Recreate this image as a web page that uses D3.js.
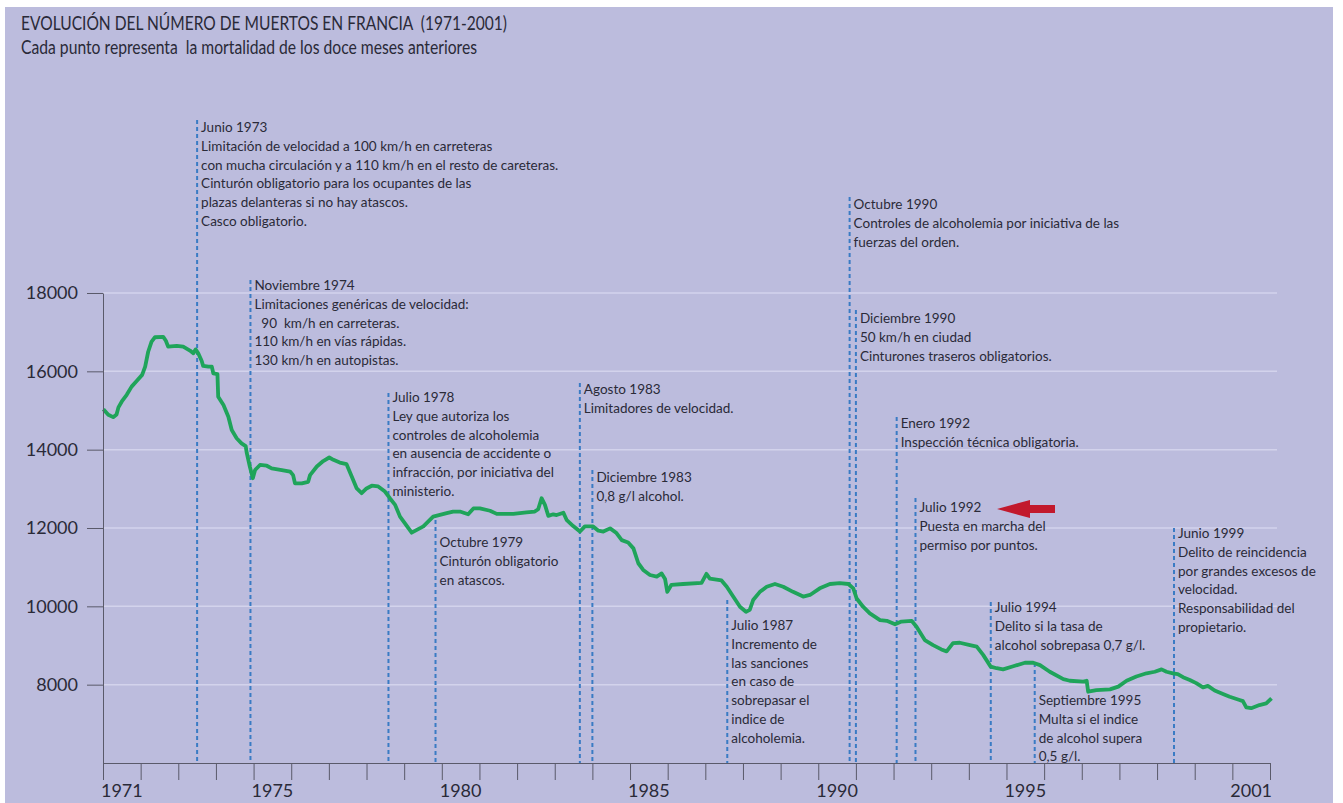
<!DOCTYPE html>
<html>
<head>
<meta charset="utf-8">
<script src="https://cdn.jsdelivr.net/npm/d3@7"></script>
<style>
  body { margin: 0; background: #fff; }
  text { font-family: Lato, "Open Sans", sans-serif; fill: #2a2a38; }
</style>
</head>
<body>
<script>
// rolling 12-month deaths (decimal year, deaths)
var years = [1971.01,1971.14,1971.27,1971.36,1971.41,1971.50,1971.63,1971.76,1971.90,1972.04,
  1972.12,1972.20,1972.29,1972.38,1972.60,1972.67,1972.73,1972.96,1973.13,1973.31,
  1973.40,1973.46,1973.53,1973.62,1973.66,1973.80,1973.89,1973.93,1974.04,1974.06,
  1974.20,1974.33,1974.42,1974.55,1974.68,1974.79,1974.82,1974.90,1974.98,1975.04,
  1975.17,1975.35,1975.48,1975.75,1975.97,1976.05,1976.10,1976.28,1976.45,1976.50,
  1976.68,1976.85,1977.01,1977.12,1977.29,1977.47,1977.61,1977.74,1977.87,1978.00,
  1978.14,1978.31,1978.49,1978.62,1978.76,1978.89,1979.20,1979.51,1979.77,1980.13,
  1980.30,1980.48,1980.70,1980.84,1981.01,1981.28,1981.46,1981.90,1982.25,1982.47,
  1982.56,1982.65,1982.74,1982.83,1982.96,1983.05,1983.23,1983.32,1983.49,1983.67,
  1983.80,1984.02,1984.16,1984.29,1984.47,1984.64,1984.78,1984.95,1985.09,1985.22,
  1985.35,1985.53,1985.71,1985.84,1985.93,1985.99,1986.10,1986.41,1986.90,1987.03,
  1987.12,1987.43,1987.57,1987.74,1987.92,1988.08,1988.18,1988.27,1988.45,1988.63,
  1988.85,1989.07,1989.33,1989.60,1989.78,1990.04,1990.31,1990.57,1990.80,1990.93,
  1991.02,1991.19,1991.37,1991.64,1991.82,1992.04,1992.21,1992.48,1992.61,1992.83,
  1993.05,1993.27,1993.41,1993.58,1993.76,1994.03,1994.21,1994.38,1994.58,1994.74,
  1994.91,1995.18,1995.49,1995.71,1995.89,1996.15,1996.51,1996.68,1997.04,1997.13,
  1997.17,1997.39,1997.75,1997.97,1998.19,1998.45,1998.72,1998.94,1999.12,1999.25,
  1999.42,1999.55,1999.69,1999.87,2000.04,2000.22,2000.35,2000.53,2000.75,2000.93,
  2001.19,2001.28,2001.37,2001.50,2001.72,2001.90,2002.04];
var deaths = [15030,14890,14830,14900,15080,15230,15400,15610,15760,15910,
  16120,16500,16760,16870,16880,16780,16630,16650,16630,16530,
  16460,16560,16460,16270,16140,16120,16120,15950,15930,15350,
  15140,14840,14500,14290,14160,14090,13910,13570,13270,13480,
  13610,13590,13520,13480,13440,13350,13140,13140,13180,13350,
  13570,13710,13800,13740,13670,13630,13310,13010,12890,13010,
  13080,13060,12930,12760,12590,12290,11880,12040,12290,12380,
  12420,12420,12350,12500,12500,12440,12360,12360,12400,12420,
  12480,12760,12590,12310,12350,12330,12390,12200,12050,11910,
  12040,12040,11930,11910,11990,11870,11690,11630,11480,11100,
  10930,10800,10760,10840,10700,10370,10550,10570,10600,10830,
  10710,10660,10500,10250,9990,9860,9910,10160,10370,10500,
  10570,10500,10370,10250,10290,10460,10570,10590,10570,10460,
  10200,9990,9820,9650,9630,9540,9610,9630,9480,9140,
  9010,8900,8850,9060,9070,9010,8970,8760,8460,8420,
  8390,8470,8560,8560,8500,8330,8140,8100,8080,8100,
  7820,7860,7880,7950,8100,8210,8290,8330,8390,8330,
  8290,8270,8190,8120,8040,7930,7970,7850,7760,7690,
  7610,7580,7420,7400,7480,7520,7650];

var yTicks = [8000, 10000, 12000, 14000, 16000, 18000];
var yearTicks = d3.range(1971, 2003);
var yearLabels = [1971, 1975, 1980, 1985, 1990, 1995, 2001];

// measures: decimal date and text
var noteDates = [1973.5, 1974.917, 1978.583, 1979.833, 1983.667, 1984.0, 1987.583,
  1990.833, 1991.0, 1992.083, 1992.583, 1994.583, 1995.75, 1999.45];
var noteTexts = [
  ["Junio 1973", "Limitación de velocidad a 100 km/h en carreteras",
   "con mucha circulación y a 110 km/h en el resto de careteras.",
   "Cinturón obligatorio para los ocupantes de las",
   "plazas delanteras si no hay atascos.", "Casco obligatorio."],
  ["Noviembre 1974", "Limitaciones genéricas de velocidad:", "  90  km/h en carreteras.",
   "110 km/h en vías rápidas.", "130 km/h en autopistas."],
  ["Julio 1978", "Ley que autoriza los", "controles de alcoholemia",
   "en ausencia de accidente o", "infracción, por iniciativa del", "ministerio."],
  ["Octubre 1979", "Cinturón obligatorio", "en atascos."],
  ["Agosto 1983", "Limitadores de velocidad."],
  ["Diciembre 1983", "0,8 g/l alcohol."],
  ["Julio 1987", "Incremento de", "las sanciones", "en caso de", "sobrepasar el",
   "indice de", "alcoholemia."],
  ["Octubre 1990", "Controles de alcoholemia por iniciativa de las", "fuerzas del orden."],
  ["Diciembre 1990", "50 km/h en ciudad", "Cinturones traseros obligatorios."],
  ["Enero 1992", "Inspección técnica obligatoria."],
  ["Julio 1992", "Puesta en marcha del", "permiso por puntos."],
  ["Julio 1994", "Delito si la tasa de", "alcohol sobrepasa 0,7 g/l."],
  ["Septiembre 1995", "Multa si el indice", "de alcohol supera", "0,5 g/l."],
  ["Junio 1999", "Delito de reincidencia", "por grandes excesos de", "velocidad.",
   "Responsabilidad del", "propietario."]
];
// layout: top of each dashed line and first baseline (px)
var noteTop  = [120, 280, 393, 520, 383, 470, 600, 197, 310, 417, 498, 602, 663, 528];
var noteBase = [132, 290, 402, 547, 394, 482, 630, 209, 323, 428, 512, 612, 705, 538];

var width = 1343, height = 803,
    lineH = 18.8;

var svg = d3.select("body")
    .append("svg")
    .attr("width", width)
    .attr("height", height);

svg.append("rect")
    .attr("x", 5).attr("y", 7)
    .attr("width", 1328).attr("height", 796)
    .attr("fill", "#bcbcdd");

var x = d3.scaleLinear().domain([1971, 2002]).range([103, 1270]);
var y = d3.scaleLinear().domain([6000, 18000]).range([763, 293]);

//gridlines
svg.append("g").selectAll("line")
    .data(yTicks)
    .enter().append("line")
    .attr("x1", 103).attr("x2", 1277)
    .attr("y1", d => y(d)).attr("y2", d => y(d))
    .attr("stroke", "#d3d3ec")
    .attr("stroke-width", 1.5);

//dashed lines for each measure
svg.append("g").selectAll("line")
    .data(noteDates)
    .enter().append("line")
    .attr("x1", d => x(d)).attr("x2", d => x(d))
    .attr("y1", (d, i) => noteTop[i]).attr("y2", y(6000))
    .attr("stroke", "#3a7bc4")
    .attr("stroke-width", 2)
    .attr("stroke-dasharray", "4,3");

//series
var line = d3.line()
    .x((d, i) => x(years[i]))
    .y(d => y(d));

svg.append("path")
    .datum(deaths)
    .attr("d", line)
    .attr("fill", "none")
    .attr("stroke", "#1fa45a")
    .attr("stroke-width", 3.8)
    .attr("stroke-linejoin", "round");

//axes
var yAxis = svg.append("g")
    .attr("transform", "translate(103,0)")
    .call(d3.axisLeft(y).tickValues(yTicks).tickSize(16).tickSizeOuter(0).tickPadding(9)
        .tickFormat(d3.format("d")));
yAxis.selectAll("text").style("font-size", "18px").attr("fill", "#2a2a38");
yAxis.selectAll("line,path").attr("stroke", "#5a5a6a");

var xAxis = svg.append("g")
    .attr("transform", "translate(0," + y(6000) + ")")
    .call(d3.axisBottom(x).tickValues(yearTicks).tickSize(17).tickSizeOuter(0).tickFormat(""));
xAxis.selectAll("line,path").attr("stroke", "#5a5a6a");

svg.append("g").selectAll("text")
    .data(yearLabels)
    .enter().append("text")
    .attr("x", d => x(d + 0.5))
    .attr("y", 797)
    .attr("text-anchor", "middle")
    .style("font-size", "18px")
    .text(d => d);

//annotation texts
var notes = svg.append("g").selectAll("text")
    .data(noteTexts)
    .enter().append("text")
    .attr("x", (d, i) => x(noteDates[i]) + 4)
    .attr("y", (d, i) => noteBase[i])
    .style("font-size", "13.5px")
    .attr("xml:space", "preserve");

notes.selectAll("tspan")
    .data(d => d)
    .enter().append("tspan")
    .attr("x", function() { return this.parentNode.getAttribute("x"); })
    .attr("dy", (d, j) => j === 0 ? 0 : lineH)
    .style("white-space", "pre")
    .text(d => d);

//red arrow next to Julio 1992
svg.append("path")
    .attr("d", d3.line()([[997, 509], [1030, 500], [1030, 505], [1055, 505],
        [1055, 513], [1030, 513], [1030, 518]]) + "Z")
    .attr("fill", "#c2192c");

//title
svg.append("text")
    .attr("x", 21).attr("y", 30)
    .attr("textLength", 486).attr("lengthAdjust", "spacingAndGlyphs")
    .style("font-size", "19.5px")
    .style("white-space", "pre")
    .text("EVOLUCIÓN DEL NÚMERO DE MUERTOS EN FRANCIA  (1971-2001)");

svg.append("text")
    .attr("x", 21).attr("y", 54)
    .attr("textLength", 456).attr("lengthAdjust", "spacingAndGlyphs")
    .style("font-size", "18.5px")
    .style("white-space", "pre")
    .text("Cada punto representa  la mortalidad de los doce meses anteriores");
</script>
</body>
</html>
